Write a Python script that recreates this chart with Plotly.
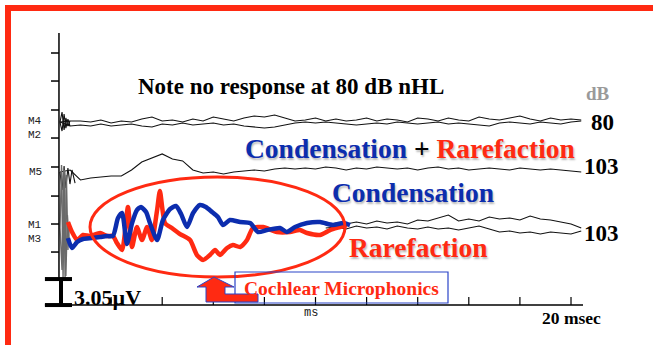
import numpy as np
import plotly.graph_objects as go

W, H = 653, 345

# ---------------------------------------------------------------- data
# averaged sweeps, sampled every 0.4 ms (ms)
t_sweep = np.round(np.arange(0, 20.41, 0.4), 2)

# row baselines, uV above the time axis
offset_80 = 21.48    # M4 / M2 : 80 dB nHL
offset_sum = 15.85   # M5      : condensation + rarefaction, 103 dB
offset_sep = 9.04    # M1 / M3 : separate polarities, 103 dB

m4_uv = [0, 0.12, 0.12, 0, 0.23, -0.12, 0.12, 0, 0.35, 0.59,
         0.12, 0.23, 0, 0.35, 0.12, 0.59, 0.35, 0.12, 0.47, 0.70,
         0.59, 0.82, 0.47, 0.12, 0.23, 0.47, 0.12, 0.35, 0.12, 0.23,
         0.47, 0.12, 0.35, 0.23, 0, 0.47, 0.35, 0.12, 0.47, 0.23,
         0.12, 0.59, 0.35, 0.23, 0.47, 0.70, 0.35, 0.12, 0.47, 0.23,
         0.35, 0.23]
m2_uv = [0, -0.47, -0.35, -0.47, -0.23, -0.47, -0.35, -0.23, -0.47, -0.59,
         -0.23, -0.35, -0.12, -0.35, -0.23, -0.12, -0.35, -0.23, -0.47, -0.59,
         -0.70, -0.59, -0.35, -0.12, 0, -0.12, 0, -0.12, -0.23, -0.35,
         -0.23, -0.12, -0.23, 0, -0.12, -0.23, -0.12, 0, -0.23, -0.12,
         -0.23, -0.35, -0.47, -0.12, 0, -0.12, -0.23, 0, -0.12, -0.23,
         0, 0.12]
m5_uv = [-0.23, 0, -1.17, -0.94, -0.82, -0.70, -0.70, 0, 0.94, 1.41,
         1.88, 1.29, 1.06, 0, -0.35, -0.23, -0.47, -0.23, -0.12, 0,
         -0.12, 0.12, 0.23, 0.12, 0.23, 0.12, 0.35, 0.23, 0, 0.23,
         0.12, 0.35, 0.23, 0.12, 0.23, 0, 0.23, 0.35, 0.12, 0.23,
         0, 0.12, 0.23, 0.12, 0, 0.23, 0.12, 0, 0.12, 0,
         -0.12, -0.23]
# M1 / M3 raw sweeps after the traced segment (from 10.4 ms)
m1_uv = [0.35, 0.59, 0.47, 0.70, 0.47, 0.82, 0.59, 0.70, 0.47, 0.94,
         0.82, 1.17, 1.53, 0.82, 1.06, 0.82, 1.29, 1.06, 1.17, 0.94,
         1.41, 1.06, 0.94, 0.70, 0.47, 0]
m3_uv = [0, 0.12, -0.12, 0.23, 0, 0.12, -0.12, 0.23, 0, -0.12,
         0.12, -0.12, 0, -0.23, 0, 0.23, -0.12, -0.47, -0.35, -0.59,
         -0.47, -0.70, -0.47, -0.59, -0.70, -0.35]

# stimulus artifact at sweep onset
art_t_80 = [0, 0.08, 0.16, 0.23, 0.31, 0.39]
art_m4 = [21.48, 22.65, 20.54, 21.95, 21.01, 21.60]
art_m2 = [21.48, 20.42, 22.42, 20.77, 21.83, 21.01]
art_t_sum = [0, 0.08, 0.16, 0.23, 0.31, 0.39, 0.47, 0.59]
art_m5 = [15.61, 13.50, 16.31, 13.73, 16.08, 14.20, 15.85, 14.32]
art_t_m1 = [0, 0.06, 0.12, 0.18, 0.23, 0.29, 0.35]
art_m1 = [9.04, 16.43, 3.17, 15.85, 3.40, 10.56, 7.86]
art_t_m3 = [0, 0.08, 0.14, 0.20, 0.25, 0.31, 0.37]
art_m3 = [9.04, 4.11, 16.08, 2.93, 15.26, 6.46, 9.74]

# highlighted condensation / rarefaction responses (cochlear microphonic)
cond_t = [0.31, 0.47, 0.67, 0.90, 1.25, 1.57, 1.84, 2.07, 2.27, 2.43,
          2.62, 2.82, 3.01, 3.17, 3.37, 3.52, 3.80, 4.03, 4.31, 4.54,
          4.74, 4.97, 5.21, 5.48, 5.71, 5.95, 6.18, 6.38, 6.65, 7.05,
          7.44, 7.75, 8.10, 8.61, 8.88, 9.20, 9.67, 10.18, 10.68, 11.08,
          11.35]
cond_uv = [7.86, 6.69, 7.39, 7.75, 7.86, 7.98, 8.10, 8.10, 10.21, 10.80,
           7.16, 9.62, 11.15, 11.50, 10.92, 9.62, 7.63, 9.98, 11.27, 11.62,
           10.68, 9.15, 10.80, 11.74, 11.50, 10.92, 10.33, 9.39, 9.98, 9.74,
           9.62, 8.57, 8.80, 9.04, 8.57, 9.15, 9.62, 9.74, 9.39, 9.62,
           9.39]
rare_t = [0.31, 0.47, 0.67, 0.90, 1.17, 1.57, 1.84, 2.07, 2.23, 2.43,
          2.66, 2.82, 3.01, 3.21, 3.41, 3.60, 3.80, 3.91, 4.11, 4.38,
          4.70, 5.09, 5.36, 5.60, 5.87, 6.07, 6.26, 6.54, 6.77, 7.05,
          7.32, 7.55, 7.95, 8.49, 9.00, 9.39, 9.67, 10.18, 10.57, 10.96,
          11.23]
rare_uv = [9.74, 8.57, 7.63, 8.22, 8.10, 8.45, 8.10, 8.10, 7.28, 6.46,
           11.50, 6.81, 9.15, 7.63, 9.15, 7.63, 11.15, 13.38, 9.62, 9.04,
           8.33, 7.63, 5.87, 5.28, 5.87, 6.46, 5.87, 6.69, 7.04, 6.81,
           7.63, 9.04, 9.15, 8.57, 8.57, 8.80, 8.45, 8.22, 8.80, 9.15,
           9.39]

x_ticks_ms = [2, 4, 6, 8, 10, 12, 14, 16, 18, 20]
y_ticks_uv = [29.58, 26.29, 22.89, 19.60, 16.20, 12.79, 9.51, 6.22]
scale_bar_uv = 3.05

channel_labels = ["M4<br>M2", "M5", "M1<br>M3"]
level_labels = ["80", "103", "103"]

# ---------------------------------------------------------------- style
RED = "#FF2A12"
BLUE = "#0C2DAE"
SERIF = "Liberation Serif"
MONO = "Liberation Mono"

X_RANGE = [-2.348, 23.209]
Y_RANGE = [-4.69, 35.80]

fig = go.Figure()


def thin(x, y, color="#111111", width=1.1):
    fig.add_trace(go.Scatter(x=x, y=y, mode="lines", hoverinfo="skip",
                             line=dict(color=color, width=width)))


t = list(t_sweep)
thin(t, list(np.array(m4_uv) + offset_80))
thin(t, list(np.array(m2_uv) + offset_80))
thin(t, list(np.array(m5_uv) + offset_sum))
thin(t[26:], list(np.array(m1_uv) + offset_sep))
thin(t[26:], list(np.array(m3_uv) + offset_sep))

thin(art_t_80, art_m4)
thin(art_t_80, art_m2)
thin(art_t_sum, art_m5)
thin(art_t_m1, art_m1, color="#6a6a6a", width=1.4)
thin(art_t_m3, art_m3, color="#6a6a6a", width=1.4)

fig.add_trace(go.Scatter(x=rare_t, y=rare_uv, mode="lines", hoverinfo="skip",
                         line=dict(color=RED, width=4.5, shape="spline", smoothing=0.6)))
fig.add_trace(go.Scatter(x=cond_t, y=cond_uv, mode="lines", hoverinfo="skip",
                         line=dict(color=BLUE, width=4.5, shape="spline", smoothing=0.6)))

# ---------------------------------------------------------------- axes drawn as line work
shapes = []
ax_line = dict(color="black", width=1.5)
ms_per_px = (X_RANGE[1] - X_RANGE[0]) / W
uv_per_px = (Y_RANGE[1] - Y_RANGE[0]) / H

y_axis_x = -0.04
shapes.append(dict(type="line", xref="x", yref="y", x0=y_axis_x, x1=y_axis_x,
                   y0=scale_bar_uv, y1=31.92, line=ax_line))
for v in y_ticks_uv:
    shapes.append(dict(type="line", xref="x", yref="y", x0=y_axis_x - 8 * ms_per_px,
                       x1=y_axis_x, y0=v, y1=v, line=ax_line))

# time axis
shapes.append(dict(type="line", xref="x", yref="y", x0=-0.59, x1=20.47, y0=0, y1=0,
                   line=dict(color="black", width=1.6)))
for v in x_ticks_ms:
    shapes.append(dict(type="line", xref="x", yref="y", x0=v, x1=v, y0=0,
                       y1=8 * uv_per_px, line=dict(color="black", width=1.2)))

# calibration bar
bar = dict(color="black", width=4)
shapes.append(dict(type="line", xref="x", yref="y", x0=-0.59, x1=0.47,
                   y0=scale_bar_uv, y1=scale_bar_uv, line=bar))
shapes.append(dict(type="line", xref="x", yref="y", x0=-0.59, x1=0.47, y0=0, y1=0, line=bar))
shapes.append(dict(type="line", xref="x", yref="y", x0=0.04, x1=0.04, y0=0,
                   y1=scale_bar_uv, line=dict(color="black", width=4)))


def px(x, y):
    return x / W, 1 - y / H


# red frame
for (x0, y0, x1, y1) in [(5, 5, 653, 11), (5, 5, 11, 345)]:
    a, b = px(x0, y1)
    c, d = px(x1, y0)
    shapes.append(dict(type="rect", xref="paper", yref="paper", x0=a, y0=b, x1=c, y1=d,
                       fillcolor=RED, line=dict(width=0)))

# ellipse around the microphonic
a, b = px(90, 277)
c, d = px(345, 177)
shapes.append(dict(type="circle", xref="paper", yref="paper", x0=a, y0=b, x1=c, y1=d,
                   line=dict(color=RED, width=3)))

# label box
a, b = px(235, 303)
c, d = px(448, 272)
shapes.append(dict(type="rect", xref="paper", yref="paper", x0=a, y0=b, x1=c, y1=d,
                   line=dict(color="#2a44c8", width=1.2), fillcolor="rgba(0,0,0,0)"))

# bent block arrow
arrow_pts = [(214, 277), (234, 287), (225, 287), (225, 294), (258, 294),
             (258, 302), (206, 302), (206, 287), (197, 287)]
path = "M " + " L ".join("%.5f,%.5f" % px(x, y) for x, y in arrow_pts) + " Z"
shapes.append(dict(type="path", xref="paper", yref="paper", path=path,
                   fillcolor=RED, line=dict(color="#2a44c8", width=1)))

# ---------------------------------------------------------------- text
ann = []


def label(text, x, y, size, color="black", family=SERIF, bold=True, shadow=None,
          xanchor="center"):
    xx, yy = px(x, y)
    f = dict(family=family, size=size, color=color)
    if bold:
        f["weight"] = "bold"
    if shadow:
        f["shadow"] = shadow
    ann.append(dict(text=text, x=xx, y=yy, xref="paper", yref="paper", showarrow=False,
                    xanchor=xanchor, yanchor="middle", font=f))


SH = "1px 2px 2px rgba(0,0,0,0.28)"
label("Note no response at 80 dB nHL", 291, 86, 23)
label("dB", 598, 93, 19, color="#9a9a9a")
label(level_labels[0], 602, 123, 23)
label("<span style='color:%s'>Condensation</span> + <span style='color:%s'>Rarefaction</span>"
      % (BLUE, RED), 410, 148, 27.5, shadow=SH)
label(level_labels[1], 601, 166, 23)
label("Condensation", 413, 192, 27.5, color=BLUE, shadow=SH)
label(level_labels[2], 601, 233, 23)
label("Rarefaction", 418, 247, 27.5, color=RED, shadow=SH)
label("Cochlear Microphonics", 341, 288, 19.5, color=RED)
label("3.05\u00b5V", 107, 297, 22)
label("ms", 311, 313, 12, family=MONO, bold=False, color="#222222")
label("20 msec", 571, 318, 17.5)

for name, yy in zip(channel_labels, [128.5, 172, 232]):
    label(name, 35, yy, 11, family=MONO, bold=False, color="#222222")

fig.update_layout(
    width=W, height=H,
    margin=dict(l=0, r=0, t=0, b=0),
    paper_bgcolor="white", plot_bgcolor="white",
    showlegend=False,
    xaxis=dict(range=X_RANGE, visible=False, fixedrange=True),
    yaxis=dict(range=Y_RANGE, visible=False, fixedrange=True),
    shapes=shapes, annotations=ann,
)

fig.write_html("out.html")
